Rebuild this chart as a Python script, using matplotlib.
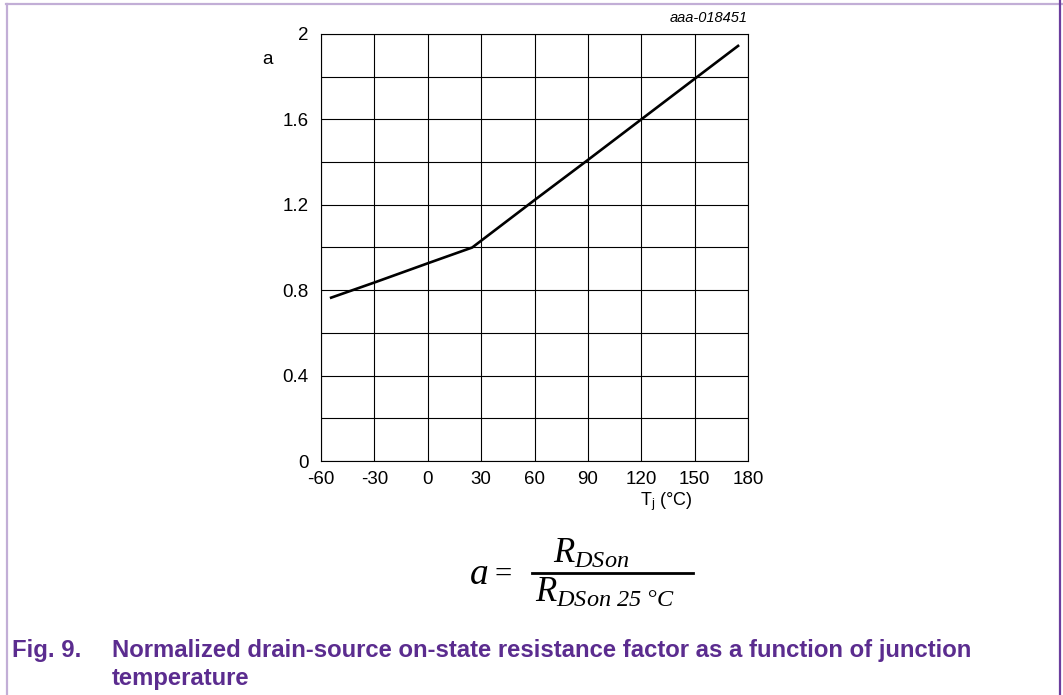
import matplotlib
matplotlib.use("Agg")
import matplotlib.pyplot as plt
from matplotlib.lines import Line2D
from matplotlib.ticker import MultipleLocator

# curve: junction temperature (degC) vs factor a
tj = [-55, -30, 0, 25, 60, 90, 120, 150, 175]
a_factor = [0.763, 0.836, 0.926, 1.0, 1.222, 1.41, 1.60, 1.79, 1.948]

x_ticks = [-60, -30, 0, 30, 60, 90, 120, 150, 180]
y_ticks = [0, 0.4, 0.8, 1.2, 1.6, 2]
y_labels = ["0", "0.4", "0.8", "1.2", "1.6", "2"]

W, H = 1063, 695
plt.rcParams["font.family"] = ["Liberation Sans", "DejaVu Sans"]
# formula is all Times-like italic
plt.rcParams["mathtext.fontset"] = "custom"
plt.rcParams["mathtext.rm"] = "Liberation Serif:italic"
plt.rcParams["mathtext.it"] = "Liberation Serif:italic"

fig = plt.figure(figsize=(W / 100, H / 100), dpi=100)
ax = fig.add_axes([321 / W, 1 - 461 / H, 427 / W, 427 / H])

ax.plot(tj, a_factor, color="black", lw=1.9, solid_capstyle="butt")
ax.set_xlim(-60, 180)
ax.set_ylim(0, 2)
ax.set_xticks(x_ticks)
ax.set_xticklabels([str(t) for t in x_ticks])
ax.set_yticks(y_ticks)
ax.set_yticklabels(y_labels)
ax.yaxis.set_minor_locator(MultipleLocator(0.2))
ax.grid(True, which="both", color="black", lw=0.8)
ax.set_axisbelow(True)
ax.tick_params(which="both", length=0)
ax.tick_params(axis="y", pad=9, labelsize=13.5)
ax.tick_params(axis="x", pad=7, labelsize=13.5)
for sp in ax.spines.values():
    sp.set_linewidth(0.8)

ax.text(-0.125, 0.94, "a", transform=ax.transAxes, fontsize=13.5, ha="center", va="center")
ax.text(0.871, -0.068, r"T$_\mathregular{j}$ (°C)", transform=ax.transAxes,
        fontsize=13, ha="right", va="top")
ax.text(1.0, 1.02, "aaa-018451", transform=ax.transAxes, fontsize=10.5,
        style="italic", ha="right", va="bottom")

# formula below the chart
def fx(px):
    return px / W

def fy(py):
    return 1 - py / H

fig.text(fx(469), fy(584), r"$a$", fontsize=27, ha="left", va="baseline")
fig.text(fx(494), fy(583), "=", fontsize=22, ha="left", va="baseline", family="Liberation Serif")
fig.add_artist(Line2D([fx(532), fx(693)], [fy(573), fy(573)], color="black", lw=2.0))
fig.text(fx(591), fy(563), r"$R_{DSon}$", fontsize=25, ha="center", va="baseline")
fig.text(fx(605), fy(602), r"$R_{DSon\ 25\ °C}$", fontsize=25, ha="center", va="baseline")

# caption
purple = "#5b2c8f"
fig.text(fx(12), fy(657), "Fig. 9.", color=purple, fontsize=17.2, weight="bold", va="baseline")
fig.text(fx(112), fy(657), "Normalized drain-source on-state resistance factor as a function of junction",
         color=purple, fontsize=17.2, weight="bold", va="baseline")
fig.text(fx(112), fy(685), "temperature", color=purple, fontsize=17.2, weight="bold", va="baseline")

# page frame
fig.add_artist(Line2D([fx(6), 1], [fy(4), fy(4)], color="#c2aed6", lw=1.6))
fig.add_artist(Line2D([fx(6.5), fx(6.5)], [0, fy(4)], color="#c2aed6", lw=1.6))
fig.add_artist(Line2D([fx(1060), fx(1060)], [0, 1], color="#6b3d9e", lw=1.6))

fig.savefig("out.png", dpi=100)
